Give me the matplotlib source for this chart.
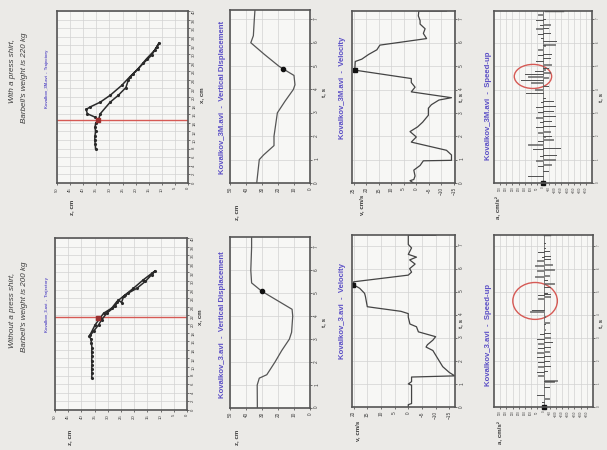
import numpy as np
import matplotlib
matplotlib.use("Agg")
import matplotlib.pyplot as plt
from matplotlib.patches import Ellipse

plt.rcParams['font.family'] = ['Liberation Sans', 'DejaVu Sans']

# ---- data (two lifts: 3M = with shirt, 3 = without) ----
# trajectory: bar height z (cm) vs horizontal x (cm)
traj3m_x = [8, 9, 10, 11, 12, 13, 14, 14.6, 16.1, 18.8, 20.4, 22.2, 23.9, 25.4, 27.8, 29.7,
            31.6, 32.6, 30.9, 28.9, 26.6, 24.7, 22.7, 20.4, 18.8, 17.7, 17.1, 16.1, 15.3, 14.6]
traj3m_z = [35.3, 35.4, 35.6, 35.5, 35.3, 35.5, 35.2, 34.2, 33.5, 29.7, 26.6, 23.7, 22.8, 20.9,
            17.1, 13.9, 12.0, 11.0, 12.7, 15.8, 19.0, 22.2, 25.3, 29.7, 33.5, 37.3, 38.9, 38.4,
            35.4, 34.2]
traj3_x = [7.4, 8.5, 9.5, 10.5, 11.5, 12.5, 13.5, 14.5, 15.5, 16.5, 17.1, 18.3, 19.8, 21.0,
           22.5, 24.1, 25.6, 25.0, 26.4, 27.2, 28.3, 29.9, 31.5, 32.4, 31.8, 30.3, 28.3, 26.8,
           25.2, 23.7, 22.5, 21.4, 19.8, 17.5]
traj3_z = [36.1, 36.0, 36.1, 36.0, 36.1, 36.0, 36.1, 36.0, 36.2, 36.4, 37.0, 35.4, 33.5, 32.3,
           30.4, 27.2, 26.0, 24.8, 24.0, 22.2, 19.0, 15.8, 13.3, 12.0, 13.3, 16.5, 20.3, 23.4,
           26.6, 28.5, 31.6, 32.9, 34.8, 36.7]
red_line_3m = 14.6
red_line_3 = 21.6

# vertical displacement z (cm) vs t (s)
disp3m_t = [0, 1.0, 1.2, 1.6, 2.0, 3.0, 3.5, 4.0, 4.2, 4.6, 4.89, 5.0, 5.5, 6.0, 6.3, 7.0, 7.4]
disp3m_z = [33.3, 31.7, 29.0, 22.5, 22.5, 20.4, 15.6, 10.4, 9.4, 10.0, 17.0, 19.5, 28.5, 37.0,
            35.4, 34.8, 34.4]
disp3_t = [0, 1.0, 1.3, 1.45, 2.0, 2.5, 3.0, 3.3, 4.0, 4.3, 5.09, 5.45, 6.0, 7.0, 7.45]
disp3_z = [32.9, 33.0, 31.7, 27.0, 21.9, 17.7, 12.9, 11.5, 10.8, 11.2, 30.2, 36.5, 37.0, 36.5, 36.5]

# velocity v (cm/s) vs t (s)
vel3m_t = [0, 0.1, 0.15, 0.3, 0.55, 0.75, 0.95, 0.97, 1.2, 1.4, 1.75, 1.97, 2.2, 2.4, 2.6,
           2.9, 3.2, 3.35, 3.55, 3.65, 3.9, 4.1, 4.3, 4.47, 4.83, 5.2, 5.3, 5.5, 5.7, 5.9,
           6.18, 6.4, 6.6, 6.8, 6.95, 7.15, 7.36, 7.36]
vel3m_v = [1.2, 2.5, 1.0, 0.5, 1.0, -1.5, -2.8, -14.0, -14.0, -12.0, 2.0, 0.0, 2.5, -0.5, -2.5,
           -4.8, -4.8, -6.0, -9.0, -14.0, 2.0, 0.5, 2.0, 2.0, 24.5, 24.3, 21.7, 19.0, 15.7, 14.5,
           -4.1, -2.8, -3.5, -1.5, -1.5, -0.8, -1.0, -12.0]
vel3_t = [0, 0.1, 0.15, 0.95, 1.0, 1.1, 1.3, 1.35, 1.5, 1.75, 2.1, 2.45, 2.6, 2.7, 2.9, 3.05,
          3.26, 3.48, 3.6, 3.9, 4.05, 4.15, 4.3, 4.35, 4.8, 4.93, 5.15, 5.3, 5.43, 5.72, 5.85,
          6.0, 6.2, 6.38, 6.5, 6.62, 6.9, 7.05, 7.45, 7.45]
vel3_v = [0, 0, -1.2, -1.2, 0, -1.2, -1.2, -17.0, -15.0, -12.6, -10.8, -9.0, -6.5, -7.0, -9.0,
          -10.0, -3.7, -3.0, -0.6, 0, 0, 2.7, 12.0, 15.0, 15.7, 16.0, 17.8, 20.0, 20.0, 0, -1.2,
          -0.5, -2.5, -0.5, -3.0, 0, -1.2, 0, 0, -10.0]

# speed-up: frames where the acceleration is non-zero (t in s, a in cm/s^2)
acc3m_t = [0.29, 0.5, 0.72, 0.78, 0.95, 1.0, 1.15, 1.2, 1.45, 1.5, 1.64, 1.8, 1.85, 1.98, 2.0,
           2.15, 2.2, 2.38, 2.43, 2.6, 2.64, 2.8, 2.85, 3.02, 3.07, 3.25, 3.28, 3.45, 3.5, 3.64,
           3.85, 4.0, 4.14, 4.3, 4.4, 4.5, 4.55, 4.65, 4.72, 4.78, 4.85, 4.9, 5.06, 5.2, 5.35,
           5.47, 5.5, 5.7, 5.88, 5.92, 6.06, 6.2, 6.38, 6.42, 6.6, 6.63, 6.75, 6.78, 6.97, 7.0,
           7.2]
acc3m_a = [122, -41, 41, -68, 54, -95, 27, -109, 82, -136, 122, 41, -82, -14, -68,
           41, -54, 54, -95, 27, -68, 54, -95, 41, -82, 54, -95, 14, -82, -14,
           136, 68, -41, 95, 177, -41, 122, 150, -54, 68, -14, -41, -68, 54, -54,
           41, -68, 41, -14, -95, -109, 14, 41, -54, 54, -41, 27, -54, 54, -14,
           41]
acc3_t = [0.2, 0.36, 0.5, 0.86, 1.1, 1.14, 1.36, 1.5, 1.55, 1.75, 1.78, 1.95, 1.99, 2.15, 2.2,
          2.35, 2.4, 2.55, 2.6, 2.75, 2.8, 2.95, 3.0, 3.15, 3.2, 3.35, 3.6, 3.65, 3.92, 4.14,
          4.2, 4.7, 4.78, 4.85, 4.9, 4.95, 5.2, 5.35, 5.5, 5.65, 5.7, 5.92, 5.95, 6.13, 6.18,
          6.35, 6.4, 6.5, 6.55, 6.72, 6.75, 6.9, 7.1]
acc3_a = [14, -41, 54, -41, -82, -109, 41, 54, -27, 41, -54, 41, -41, 54, -54,
          54, -41, 41, -54, 41, -68, 54, -54, 27, -54, -14, -14, -41, -14, 109,
          95, 41, -54, 41, -54, -27, -54, -82, -27, 68, -41, 54, -82, 68, -68,
          54, -54, 14, -54, 41, -41, -14, -14]
frame = 0.015

W, H = 607, 450
fig = plt.figure(figsize=(W / 100, H / 100), dpi=100)
fig.patch.set_facecolor('#ebeae7')

TITLE_C = '#5b4fc6'
TXT_C = '#3c3c3c'
LINE_C = '#2a2a2a'
RED = '#d65a55'


def box(x0, y0, x1, y1):
    return fig.add_axes([x0 / W, 1 - y1 / H, (x1 - x0) / W, (y1 - y0) / H])


def vtext(x, y, s, **kw):
    fig.text(x / W, 1 - y / H, s, rotation=90, ha='center', va='center', **kw)


def setup(ax, xlim, ylim, xticks, yticks, lsize):
    ax.set_xlim(*xlim)
    ax.set_ylim(*ylim)
    ax.set_xticks(xticks)
    ax.set_yticks(yticks)
    ax.yaxis.tick_right()
    ax.tick_params(axis='both', labelsize=lsize, length=1.5, width=0.5, pad=1.5,
                   colors=TXT_C)
    ax.tick_params(axis='x', labelrotation=90)
    ax.tick_params(axis='y', labelrotation=90)
    ax.grid(True, color='#d2d2d2', lw=0.5)
    ax.set_axisbelow(True)
    ax.set_facecolor('#f7f7f5')
    for s in ax.spines.values():
        s.set_color('#555555')
        s.set_linewidth(1.2)


def spikes(t, a):
    tt, aa = [0], [0]
    for ti, ai in zip(t, a):
        tt += [ti, ti, ti + frame, ti + frame]
        aa += [0, ai, ai, 0]
    return tt, aa


rows = [
    dict(name='Kovalkov_3M.avi', head1='With a press shirt,',
         head2="Barbell's weight is 220 kg",
         traj_box=(57, 11, 188, 183), disp_box=(230, 10, 310, 183),
         vel_box=(352, 11, 455, 183), acc_box=(494, 11, 592, 183),
         tx=traj3m_x, tz=traj3m_z, red=red_line_3m, red_pt=(34.2, 14.6),
         dt=disp3m_t, dz=disp3m_z, dmark=(17.0, 4.89), tmax_d=7.4,
         vt=vel3m_t, vv=vel3m_v, vlim=(25.6, -15.4), vticks=np.arange(-15, 26, 5),
         vmark=(24.5, 4.85), tmax_v=7.36,
         at=acc3m_t, aa=acc3m_a, ell=(82, 4.56, 305, 1.03), tmax_a=7.36,
         acc_end=(-14, -160),
         head_y=(71, 78), titles=(79, 97, 88, 106),
         labels=[(202, 95, 'x, cm'), (72, 207, 'z, cm'), (325, 92, 't, s'),
                 (237, 212, 'z, cm'), (462, 97, 't, s'), (362, 205, 'v, cm/s'),
                 (602, 97, 't, s'), (498, 208, 'a, cm/s²')]),
    dict(name='Kovalkov_3.avi', head1='Without a press shirt,',
         head2="Barbell's weight is 200 kg",
         traj_box=(55, 238, 187, 410), disp_box=(230, 237, 310, 408),
         vel_box=(352, 235, 455, 407), acc_box=(494, 235, 593, 407),
         tx=traj3_x, tz=traj3_z, red=red_line_3, red_pt=(33.8, 21.5),
         dt=disp3_t, dz=disp3_z, dmark=(30.2, 5.09), tmax_d=7.45,
         vt=vel3_t, vv=vel3_v, vlim=(20.6, -17.1), vticks=np.arange(-15, 21, 5),
         vmark=(20.2, 5.3), tmax_v=7.46,
         at=acc3_t, aa=acc3_a, ell=(68, 4.6, 360, 1.6), tmax_a=7.46,
         acc_end=(0, -54),
         head_y=(310, 307), titles=(305, 325, 311, 335),
         labels=[(200, 317, 'x, cm'), (70, 437, 'z, cm'), (325, 322, 't, s'),
                 (237, 437, 'z, cm'), (462, 323, 't, s'), (358, 431, 'v, cm/s'),
                 (602, 323, 't, s'), (500, 433, 'a, cm/s²')]),
]

for r in rows:
    # trajectory
    ax = box(*r['traj_box'])
    setup(ax, (50, 0), (0, 40), np.arange(0, 51, 5), np.arange(0, 41, 2), 3.1)
    ax.axhline(r['red'], color=RED, lw=1)
    ax.plot(r['tz'], r['tx'], color=LINE_C, lw=1.1, marker='.', ms=2.5)
    ax.plot(*r['red_pt'], marker='s', ms=2.5, color='#9a3030')

    # vertical displacement
    ax = box(*r['disp_box'])
    setup(ax, (50, 0), (0, r['tmax_d']), np.arange(0, 51, 10), np.arange(0, 8), 3.4)
    ax.plot(r['dz'], r['dt'], color='#555555', lw=0.9)
    ax.plot(*r['dmark'], marker='o', ms=3, color='#111111')

    # velocity
    ax = box(*r['vel_box'])
    setup(ax, r['vlim'], (0, r['tmax_v']), r['vticks'], np.arange(0, 8), 3.4)
    ax.plot(r['vv'], r['vt'], color='#444444', lw=0.9)
    ax.plot(*r['vmark'], marker='s', ms=3, color='#111111')

    # speed-up
    ax = box(*r['acc_box'])
    setup(ax, (400, -400), (0, r['tmax_a']), np.arange(-350, 351, 50), np.arange(0, 8), 2.0)
    ax.tick_params(axis='x', pad=1)
    st, sa = spikes(r['at'], r['aa'])
    st.append(r['tmax_a'] - 0.02)
    sa.append(0)
    ax.plot(sa, st, color='#555555', lw=0.5)
    ax.plot(list(r['acc_end']), [r['tmax_a'] - 0.02] * 2, color='#4a4a4a', lw=1)
    ax.plot(0, 0, marker='s', ms=2.5, color='#111111', clip_on=False)
    ea, et, ew, eh = r['ell']
    ax.add_patch(Ellipse((ea, et), ew, eh, fill=False, edgecolor=RED, lw=1))

    # text
    vtext(13, r['head_y'][0], r['head1'], fontsize=5.8, style='italic', color=TXT_C)
    vtext(25, r['head_y'][1], r['head2'], fontsize=5.8, style='italic', color=TXT_C)
    ty = r['titles']
    vtext(47, ty[0], r['name'] + '  -  Trajectory', fontsize=3.0, weight='bold', color=TITLE_C)
    vtext(223, ty[1], r['name'] + '  -  Vertical Displacement', fontsize=5.6, weight='bold',
          color=TITLE_C)
    vtext(343, ty[2], r['name'] + '  -  Velocity', fontsize=5.6, weight='bold', color=TITLE_C)
    vtext(489, ty[3], r['name'] + '  -  Speed-up', fontsize=5.6, weight='bold', color=TITLE_C)
    for x, y, s in r['labels']:
        vtext(x, y, s, fontsize=4.4, weight='bold', color=TXT_C)

fig.savefig('out.png', dpi=100, facecolor=fig.get_facecolor())
